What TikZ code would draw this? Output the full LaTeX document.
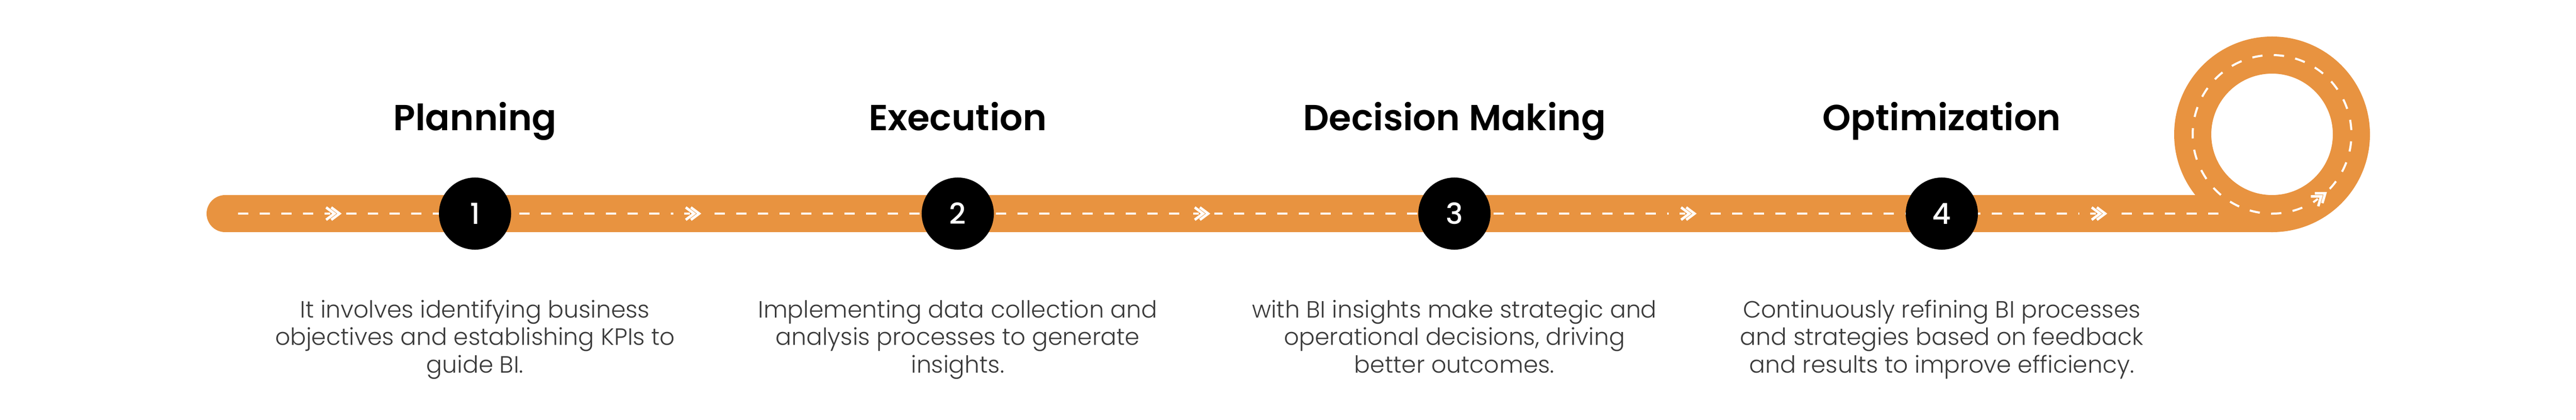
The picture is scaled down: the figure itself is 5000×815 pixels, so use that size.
\documentclass[tikz,border=0pt]{standalone}
\usepackage{fontspec}
\setmainfont{Poppins}
\newfontfamily\descfont{Poppins Light}
\newfontfamily\titlefont{Poppins SemiBold}
\newfontfamily\numfont{Poppins Medium}
\definecolor{road}{RGB}{232,147,64}
\definecolor{desctext}{RGB}{58,58,58}
\tikzset{
  roadline/.style={draw=road, line width=0.72cm},
  centerline/.style={draw=white, line width=0.04cm, dash pattern=on 0.2cm off 0.22cm},
  numdot/.style={circle, fill=black, minimum size=1.4cm, inner sep=0pt, text=white, font=\numfont\fontsize{16}{16}\selectfont},
  steptitle/.style={anchor=base, inner sep=0pt, font=\titlefont\fontsize{20}{24}\selectfont, text=black},
  stepdesc/.style={anchor=base, inner sep=0pt, align=center, font=\descfont\fontsize{13}{15.2}\selectfont, text=desctext},
  chev/.pic={
    \fill[road] (-36,-7) rectangle (26,7);
    \draw[white, line width=0.04cm] (-15,0) -- (-4,0);
    \draw[white, line width=0.05cm, miter limit=3] (-12,-12) -- (4,0) -- (-12,12);
    \draw[white, line width=0.05cm, miter limit=3] (-2,-12) -- (14,0) -- (-2,12);
  }
}
\begin{document}
\begin{tikzpicture}[x=0.01cm, y=-0.01cm]
\fill[white] (0,0) rectangle (5000,815);
\useasboundingbox (0,0) rectangle (5000,815);
% road
\coordinate (rstart) at (437,415);
\coordinate (rend) at (4410,415);
\coordinate (loopc) at (4410,261);
\draw[roadline, line cap=round] (rstart) -- (rend);
\draw[roadline] (loopc) circle [radius=154];
% centre markings
\coordinate (dstart) at (462,415);
\coordinate (dend) at (4317,415);
\draw[centerline] (dstart) -- (dend);
\draw[centerline] (loopc) ++(-120:154) arc [start angle=-120, end angle=240, radius=154];
% chevrons
\pic at (645,415) {chev};
\pic at (1343,415) {chev};
\pic at (2331,415) {chev};
\pic at (3275,415) {chev};
\pic at (4072,415) {chev};
\pic[rotate=37] at (4502,384) {chev};
% number dots
\node[numdot] (n1) at (922,415) {1};
\node[numdot] (n2) at (1859,415) {2};
\node[numdot] (n3) at (2823,415) {3};
\node[numdot] (n4) at (3769,415) {4};
% titles
\node[steptitle] (t1) at (922,253) {Planning};
\node[steptitle] (t2) at (1859,253) {Execution};
\node[steptitle] (t3) at (2823,253) {Decision Making};
\node[steptitle] (t4) at (3769,253) {Optimization};
% descriptions (base anchor = baseline of last line)
\node[stepdesc] (d1) at (922,724) {It involves identifying business\\objectives and establishing KPIs to\\guide BI.};
\node[stepdesc] (d2) at (1859,724) {Implementing data collection and\\analysis processes to generate\\insights.};
\node[stepdesc] (d3) at (2823,724) {with BI insights make strategic and\\operational decisions, driving\\better outcomes.};
\node[stepdesc] (d4) at (3769,724) {Continuously refining BI processes\\and strategies based on feedback\\and results to improve efficiency.};
\end{tikzpicture}
\end{document}
